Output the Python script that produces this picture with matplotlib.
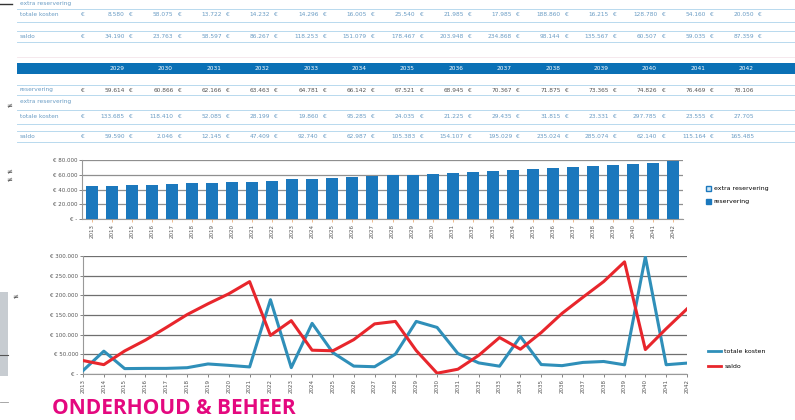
import matplotlib
matplotlib.use("Agg")
import matplotlib.pyplot as plt
from matplotlib.patches import Rectangle
from matplotlib.lines import Line2D
from matplotlib.ticker import FuncFormatter

# --- data ---
years = list(range(2013, 2043))
reservering = [44500, 45300, 45800, 46200, 47100, 48900, 49300, 49800, 50600, 51900,
               53700, 54200, 55400, 56300, 58500, 59000, 59614, 60866, 62166, 63463,
               64781, 66142, 67521, 68945, 70367, 71875, 73365, 74826, 76469, 78106]
totale_kosten = [8580, 58075, 13722, 14232, 14296, 16005, 25540, 21985, 17985, 188860,
                 16215, 128780, 54160, 20050, 18500, 50500, 133685, 118410, 52085, 28199,
                 19860, 95285, 24035, 21225, 29435, 31815, 23331, 297785, 23555, 27705]
saldo = [34190, 23763, 58597, 86267, 118253, 151079, 178467, 203948, 234868, 98144,
         135567, 60507, 59035, 87359, 127400, 133700, 59590, 2046, 12145, 47409,
         92740, 62987, 105383, 154107, 195029, 235024, 285074, 62140, 115164, 165485]

top_years = years[:14]      # 2013-2026, zichtbaar in bovenste tabel
mid_years = years[16:]      # 2029-2042

W, H = 795, 420
BLUE = "#1b78bd"
LINE_BLUE = "#2f8fb9"
RED = "#e8262c"
PINK = "#e4087f"
TXT = "#6a9cc4"


def eur(v):
    return f"{v:,}".replace(",", ".")


def px_axes(x0, y0, x1, y1):
    return fig.add_axes([x0 / W, 1 - y1 / H, (x1 - x0) / W, (y1 - y0) / H])


fig = plt.figure(figsize=(W / 100, H / 100), dpi=100)
fig.patch.set_facecolor("white")

# overlay voor tabellen en losse elementen
ov = fig.add_axes([0, 0, 1, 1])
ov.set_xlim(0, W)
ov.set_ylim(H, 0)
ov.axis("off")

fs = 4.2
col0 = 117
step = 48.4

# bovenste tabel (afgesneden)
for y in [9, 22, 31, 42]:
    ov.plot([17, W], [y, y], color="#b8d9ee", lw=0.7)
ov.plot([17, W], [57, 57], color="#f4e4ea", lw=0.6)
ov.plot([0, 12], [4, 4], color="#333333", lw=1.0)
ov.text(20, 3, "extra reservering", fontsize=fs, color=TXT, va="center")
ov.text(20, 15, "totale kosten", fontsize=fs, color=TXT, va="center")
ov.text(20, 37, "saldo", fontsize=fs, color=TXT, va="center")
for row_y, vals in [(15, totale_kosten[:14]), (37, saldo[:14])]:
    ov.text(83, row_y, "€", fontsize=fs, color=TXT, va="center", ha="center")
    for i, v in enumerate(vals):
        cx = col0 + i * step
        ov.text(cx + 8, row_y, eur(v), fontsize=fs, color=TXT, va="center", ha="right")
        ov.text(cx + 14, row_y, "€", fontsize=fs, color=TXT, va="center", ha="center")

# middelste tabel
ov.add_patch(Rectangle((17, 63), W - 17, 11, color="#0a70b5", lw=0))
for i, yr in enumerate(mid_years):
    ov.text(col0 + i * step, 68.5, str(yr), fontsize=fs, color="white", va="center", ha="center")
for y in [85, 95, 110, 124, 131, 142]:
    ov.plot([17, W], [y, y], color="#b8d9ee", lw=0.7)
ov.text(20, 90, "reservering", fontsize=fs, color=TXT, va="center")
ov.text(20, 102, "extra reservering", fontsize=fs, color=TXT, va="center")
ov.text(20, 116, "totale kosten", fontsize=fs, color=TXT, va="center")
ov.text(20, 137, "saldo", fontsize=fs, color=TXT, va="center")
rows = [(90, reservering[16:], "#555555"), (116, totale_kosten[16:], TXT), (137, saldo[16:], TXT)]
for row_y, vals, c in rows:
    ov.text(83, row_y, "€", fontsize=fs, color=c, va="center", ha="center")
    for i, v in enumerate(vals):
        cx = col0 + i * step
        ov.text(cx + 8, row_y, eur(v), fontsize=fs, color=c, va="center", ha="right")
        if i < len(vals) - 1:
            ov.text(cx + 14, row_y, "€", fontsize=fs, color=c, va="center", ha="center")

# losse restjes aan de linkerrand
ov.add_patch(Rectangle((0, 292), 8, 84, color="#c7ccd1", lw=0))
ov.plot([0, 8], [355, 355], color="#555555", lw=0.8)
ov.plot([0, 8], [402, 402], color="#999999", lw=0.6)
ov.text(9, 106, "≠", fontsize=5, color="#444444", ha="center", va="center")
ov.text(9, 172, "≠", fontsize=5, color="#444444", ha="center", va="center")
ov.text(9, 180, "≠", fontsize=5, color="#444444", ha="center", va="center")
ov.text(15, 297, "≠", fontsize=5, color="#444444", ha="center", va="center")

# titel
ov.text(52, 414, "ONDERHOUD & BEHEER", fontsize=15, fontweight="bold", color=PINK,
        family="Open Sans", va="baseline")

# --- staafdiagram ---
ax1 = px_axes(82, 160, 683, 219)
x = list(range(len(years)))
ax1.bar(x, reservering, width=0.6, color=BLUE, zorder=3)
ax1.set_xlim(-0.5, len(years) - 0.5)
ax1.set_ylim(0, 80000)
ax1.set_yticks([0, 20000, 40000, 60000, 80000])
ax1.yaxis.set_major_formatter(FuncFormatter(lambda v, p: "€ -" if v == 0 else "€ " + eur(int(v))))
ax1.set_xticks(x)
ax1.set_xticklabels([str(y) for y in years], rotation=90)
ax1.grid(axis="y", color="#8f8f8f", lw=0.9, zorder=0)
for s in ["top", "right"]:
    ax1.spines[s].set_visible(False)
for s in ["left", "bottom"]:
    ax1.spines[s].set_color("#999999")
ax1.tick_params(labelsize=4, colors="#555555", length=2, width=0.5, pad=1.5)
ax1.tick_params(axis="x", colors="#e8a060", labelcolor="#555555")

h1 = Rectangle((0, 0), 1, 1, facecolor="#cfe6f5", edgecolor=BLUE, lw=1)
h2 = Rectangle((0, 0), 1, 1, facecolor=BLUE, edgecolor=BLUE)
fig.legend([h1, h2], ["extra reservering", "reservering"], loc="center left",
           bbox_to_anchor=(700 / W, 1 - 195 / H), frameon=False, fontsize=4.5,
           handlelength=0.9, handleheight=0.9, handletextpad=0.4, labelspacing=1.2)

# --- lijndiagram ---
ax2 = px_axes(83, 256, 687, 374)
ax2.plot(years, totale_kosten, color=LINE_BLUE, lw=2.2, label="totale kosten", zorder=3)
ax2.plot(years, saldo, color=RED, lw=2.2, label="saldo", zorder=3)
ax2.set_xlim(years[0], years[-1])
ax2.set_ylim(0, 300000)
ax2.set_yticks(range(0, 300001, 50000))
ax2.yaxis.set_major_formatter(FuncFormatter(lambda v, p: "€ -" if v == 0 else "€ " + eur(int(v))))
ax2.set_xticks(years)
ax2.set_xticklabels([str(y) for y in years], rotation=90)
ax2.grid(axis="y", color="#6f6f6f", lw=0.9, zorder=0)
for s in ["top", "right"]:
    ax2.spines[s].set_visible(False)
for s in ["left", "bottom"]:
    ax2.spines[s].set_color("#999999")
ax2.tick_params(labelsize=4, colors="#555555", length=2, width=0.5, pad=1.5)

fig.legend(handles=[Line2D([], [], color=LINE_BLUE, lw=2), Line2D([], [], color=RED, lw=2)],
           labels=["totale kosten", "saldo"], loc="center left",
           bbox_to_anchor=(702 / W, 1 - 359 / H), frameon=False, fontsize=4.5,
           handlelength=2.2, handletextpad=0.5, labelspacing=1.6)

fig.savefig("out.png", dpi=100)
